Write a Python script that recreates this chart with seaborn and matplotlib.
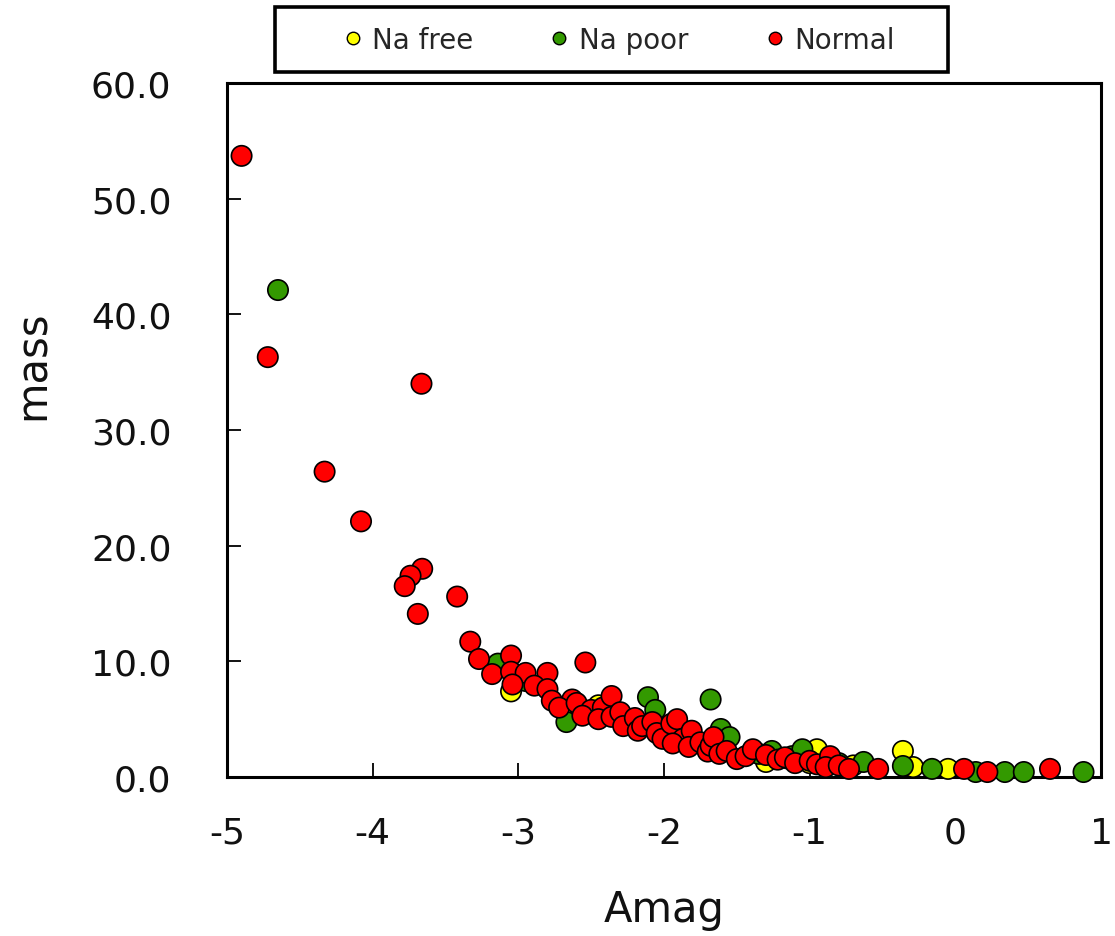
import numpy as np
import pandas as pd
import matplotlib
matplotlib.use("Agg")
import matplotlib.pyplot as plt
import seaborn as sns
from matplotlib.patches import Rectangle
from matplotlib.lines import Line2D
from matplotlib.ticker import FormatStrFormatter

# ---------------- data ----------------
groups = ["Na free", "Na poor", "Normal"]
colors = ["#FFFF00", "#339900", "#FF0000"]

nafree_amag = [-3.05, -2.45, -2.70, -2.00, -1.60, -1.30, -1.15, -1.00, -0.95,
               -0.70, -0.36, -0.29, -0.05]
nafree_mass = [7.4, 6.2, 6.0, 3.6, 2.4, 1.3, 1.6, 1.2, 2.4,
               1.0, 2.25, 0.86, 0.7]

napoor_amag = [-4.65, -3.14, -2.95, -2.67, -2.40, -2.20, -2.11, -2.06, -1.90,
               -1.80, -1.68, -1.61, -1.55, -1.35, -1.26, -1.12, -1.05, -0.80,
               -0.63, -0.36, -0.16, 0.14, 0.34, 0.47, 0.88]
napoor_mass = [42.1, 9.8, 8.3, 4.75, 5.6, 4.6, 6.9, 5.8, 4.0,
               3.2, 6.7, 4.15, 3.45, 2.0, 2.25, 1.8, 2.4, 1.2,
               1.3, 0.95, 0.7, 0.43, 0.43, 0.43, 0.43]

normal_amag = [-4.90, -4.72, -3.665, -4.33, -4.08, -3.66, -3.74, -3.78, -3.42,
               -3.69, -3.33, -3.27, -3.05, -3.18, -3.05, -2.95, -2.80, -2.54,
               -3.04, -2.89, -2.80, -2.77, -2.63, -2.72, -2.60, -2.50, -2.42,
               -2.36, -2.56, -2.45, -2.36, -2.30, -2.28, -2.20, -2.18, -2.15,
               -2.08, -2.05, -2.01, -1.95, -1.91, -1.87, -1.81, -1.94, -1.83,
               -1.75, -1.70, -1.68, -1.66, -1.62, -1.57, -1.50, -1.44, -1.39,
               -1.30, -1.22, -1.17, -1.10, -1.00, -0.95, -0.86, -0.89, -0.80,
               -0.73, -0.53, 0.06, 0.22, 0.65]
normal_mass = [53.7, 36.3, 34.0, 26.4, 22.1, 18.0, 17.4, 16.5, 15.6,
               14.1, 11.7, 10.2, 10.5, 8.9, 9.1, 9.0, 9.0, 9.9,
               8.0, 7.9, 7.6, 6.6, 6.7, 6.0, 6.4, 5.8, 6.0,
               7.0, 5.3, 5.0, 5.2, 5.6, 4.4, 5.1, 4.0, 4.4,
               4.75, 3.8, 3.3, 4.6, 5.0, 3.3, 4.0, 2.9, 2.6,
               3.0, 2.2, 2.7, 3.45, 2.0, 2.25, 1.55, 1.8, 2.4,
               1.9, 1.5, 1.7, 1.2, 1.4, 1.1, 1.8, 0.86, 1.0,
               0.7, 0.7, 0.7, 0.43, 0.7]

x_ticks = [-5, -4, -3, -2, -1, 0, 1]
y_ticks = [0, 10, 20, 30, 40, 50, 60]

# ---------------- figure ----------------
sns.set_theme(style="white")
plt.rcParams['font.family'] = ['DejaVu Sans']
plt.rcParams['axes.unicode_minus'] = False

df = pd.concat([
    pd.DataFrame({"Amag": nafree_amag, "mass": nafree_mass, "group": groups[0]}),
    pd.DataFrame({"Amag": napoor_amag, "mass": napoor_mass, "group": groups[1]}),
    pd.DataFrame({"Amag": normal_amag, "mass": normal_mass, "group": groups[2]}),
], ignore_index=True)

W, H = 1115, 937
fig = plt.figure(figsize=(W / 100, H / 100), dpi=100)
ax = fig.add_axes([227 / W, 1 - 778 / H, 874 / W, 694 / H])

sns.scatterplot(data=df, x="Amag", y="mass", hue="group", hue_order=groups,
                palette=dict(zip(groups, colors)), s=215, edgecolor="black",
                linewidth=1.2, ax=ax, legend=False, clip_on=False, zorder=3)

ax.set_xlim(-5, 1)
ax.set_ylim(0, 60)
ax.set_xticks(x_ticks)
ax.set_yticks(y_ticks)
ax.yaxis.set_major_formatter(FormatStrFormatter('%.1f'))
ax.tick_params(direction='in', length=10, width=1.3, labelsize=26,
               color='black', labelcolor='#111111', left=True, bottom=True)
ax.tick_params(axis='y', pad=40)
ax.tick_params(axis='x', pad=28)
for sp in ax.spines.values():
    sp.set_linewidth(2.2)
    sp.set_color('black')
    sp.set_visible(True)

ax.set_xlabel("Amag", fontsize=30, color='#111111')
ax.set_ylabel("mass", fontsize=30, color='#111111')
ax.xaxis.set_label_coords(0.5, -0.16)
ax.yaxis.set_label_coords(-0.198, 0.595)

# legend
handles = [Line2D([], [], marker='o', ls='', markerfacecolor=c,
                  markeredgecolor='black', markersize=9, markeredgewidth=1.0)
           for c in colors]
fig.legend(handles, groups, loc='center', bbox_to_anchor=(618 / W, 1 - 41 / H),
           ncol=3, frameon=False, fontsize=20, handlelength=0.8,
           handletextpad=0.3, columnspacing=2.7)
fig.add_artist(Rectangle((275 / W, 1 - 73 / H), 673 / W, 65 / H,
                         transform=fig.transFigure, fill=False, lw=2.6,
                         edgecolor='black'))

fig.savefig("out.png", dpi=100)
